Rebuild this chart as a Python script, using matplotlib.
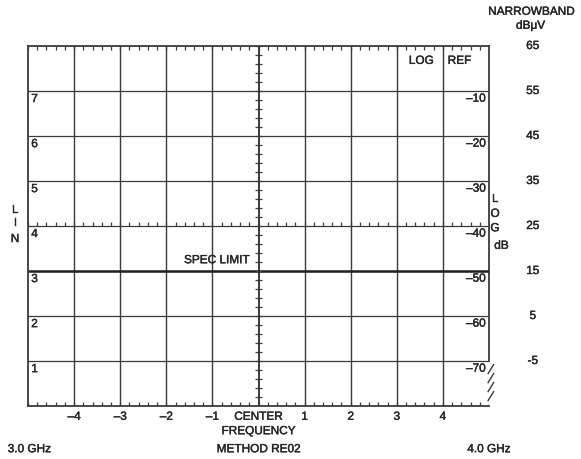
import numpy as np
import matplotlib
matplotlib.use("Agg")
from matplotlib import pyplot as plt
from matplotlib import patheffects as pe

# graticule values
freq_ticks = [-4, -3, -2, -1, 1, 2, 3, 4]
lin_labels = [1, 2, 3, 4, 5, 6, 7]
log_labels = [-70, -60, -50, -40, -30, -20, -10]
narrowband = [-5, 5, 15, 25, 35, 45, 55, 65]
spec_limit = 3

ink = "#3a3a3a"
txt = "#262626"
fs = 8.5

plt.rcParams['font.family'] = ['Liberation Sans', 'DejaVu Sans']
heavy = [pe.withStroke(linewidth=0.3, foreground=txt)]

fig = plt.figure(figsize=(5.81, 4.6), dpi=100)
ax = fig.add_axes([28 / 581, 53 / 460, 461 / 581, 360 / 460])
ax.set_xlim(-5, 5)
ax.set_ylim(0, 8)
ax.set_xticks([])
ax.set_yticks([])
for s in ["left", "top", "bottom"]:
    ax.spines[s].set_color(ink)
    ax.spines[s].set_linewidth(1.3)
ax.spines["right"].set_visible(False)
ax.plot([5, 5], [1, 8], color=ink, lw=1.3, clip_on=False)

# grid
for x in range(-4, 5):
    ax.axvline(x, color=ink, lw=1.0 if x else 1.4)
for y in range(1, 8):
    ax.axhline(y, color=ink, lw=0.9)
ax.axhline(spec_limit, color="#222222", lw=1.8)

# minor ticks
minor = np.arange(-5, 5.01, 0.2)
dy = 0.08
dx = 0.07
ax.vlines(minor, 8 - dy, 8, color=ink, lw=0.9)
ax.vlines(minor, 0, dy, color=ink, lw=0.9)
ax.vlines(minor, 4, 4 + dy, color=ink, lw=0.9)
ax.hlines(np.arange(0, 8.01, 0.2), -dx, dx, color=ink, lw=0.9)

# break hatching at lower right
for y0 in np.arange(0.12, 0.9, 0.2):
    ax.plot([4.98, 5.1], [y0, y0 + 0.2], color=ink, lw=1.0, clip_on=False)


def label(x, y, s, ha="center", **kw):
    ax.text(x, y, s, ha=ha, va="center", fontsize=fs, color=txt,
            path_effects=heavy, clip_on=False, **kw)


for v in lin_labels:
    label(-4.93, v - 0.18, str(v), ha="left")
for i, v in enumerate(log_labels):
    label(4.93, i + 1 - 0.17, str(v).replace("-", "\u2013"), ha="right")
for i, v in enumerate(narrowband):
    label(5.95, i + 1, str(v))
for v in freq_ticks:
    label(v, -0.24, str(v).replace("-", "\u2013"))
label(0, -0.24, "CENTER")
label(0, -0.56, "FREQUENCY")
label(0, -0.96, "METHOD RE02")
label(-5.44, -0.96, "3.0 GHz", ha="left")
label(5.47, -0.96, "4.0 GHz", ha="right")

label(3.53, 7.67, "LOG")
label(4.36, 7.67, "REF")
label(-0.2, 3.24, "SPEC LIMIT", ha="right")

for ch, y in zip("LIN", [4.36, 4.07, 3.71]):
    label(-5.28, y, ch)
for ch, y in zip("LOG", [4.6, 4.27, 3.95]):
    label(5.13, y, ch)
label(5.27, 3.56, "dB")

label(5.92, 8.76, "NARROWBAND")
label(5.9, 8.45, "dB\u03bcV")

fig.savefig("out.png", dpi=100)
